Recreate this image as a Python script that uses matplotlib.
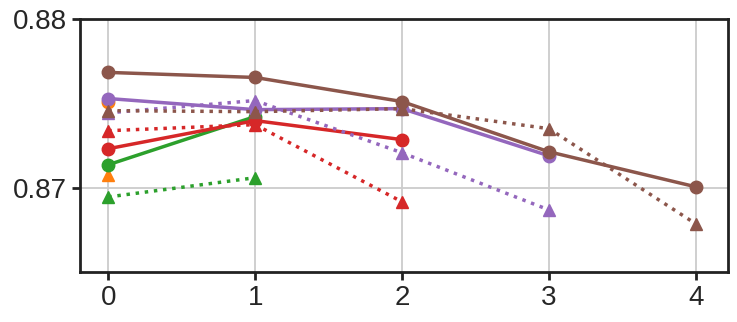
import matplotlib
matplotlib.use('Agg')
import matplotlib.pyplot as plt
import seaborn as sns

sns.set_style('ticks')
plt.rcParams['font.family'] = ['Liberation Sans', 'DejaVu Sans']

steps = [0, 1, 2, 3, 4]

# solid lines (circles) and dotted lines (triangles), per colour
orange_solid = [0.87510]
orange_dot = [0.87077]
green_solid = [0.87137, 0.87423]
green_dot = [0.86946, 0.87060]
red_solid = [0.87232, 0.87399, 0.87286]
red_dot = [0.87339, 0.87375, 0.86917]
purple_solid = [0.87530, 0.87464, 0.87470, 0.87190]
purple_dot = [0.87445, 0.87518, 0.87208, 0.86869]
brown_solid = [0.87685, 0.87655, 0.87512, 0.87214, 0.87006]
brown_dot = [0.87458, 0.87452, 0.87470, 0.87351, 0.86786]

series = [
    ('#ff7f0e', orange_solid, orange_dot),
    ('#2ca02c', green_solid, green_dot),
    ('#d62728', red_solid, red_dot),
    ('#9467bd', purple_solid, purple_dot),
    ('#8c564b', brown_solid, brown_dot),
]

fig, ax = plt.subplots(figsize=(7.37, 3.22), dpi=100)
for col, sol, dot in series:
    ax.plot(steps[:len(sol)], sol, '-', marker='o', color=col, lw=2.5, ms=9)
    ax.plot(steps[:len(dot)], dot, ':', marker='^', color=col, lw=2.5, ms=9)

ax.set_xlim(-0.19, 4.22)
ax.set_ylim(0.865, 0.88)
ax.set_xticks(steps)
ax.set_yticks([0.87, 0.88])
ax.set_yticklabels(['0.87', '0.88'])
ax.grid(True, color='#cccccc', lw=1.3)
ax.tick_params(labelsize=20, width=2, length=6, color='#222222')
for s in ax.spines.values():
    s.set_linewidth(2)
    s.set_color('#222222')

fig.subplots_adjust(left=0.109, right=0.988, top=0.94, bottom=0.155)
fig.savefig('out.png', dpi=100)
